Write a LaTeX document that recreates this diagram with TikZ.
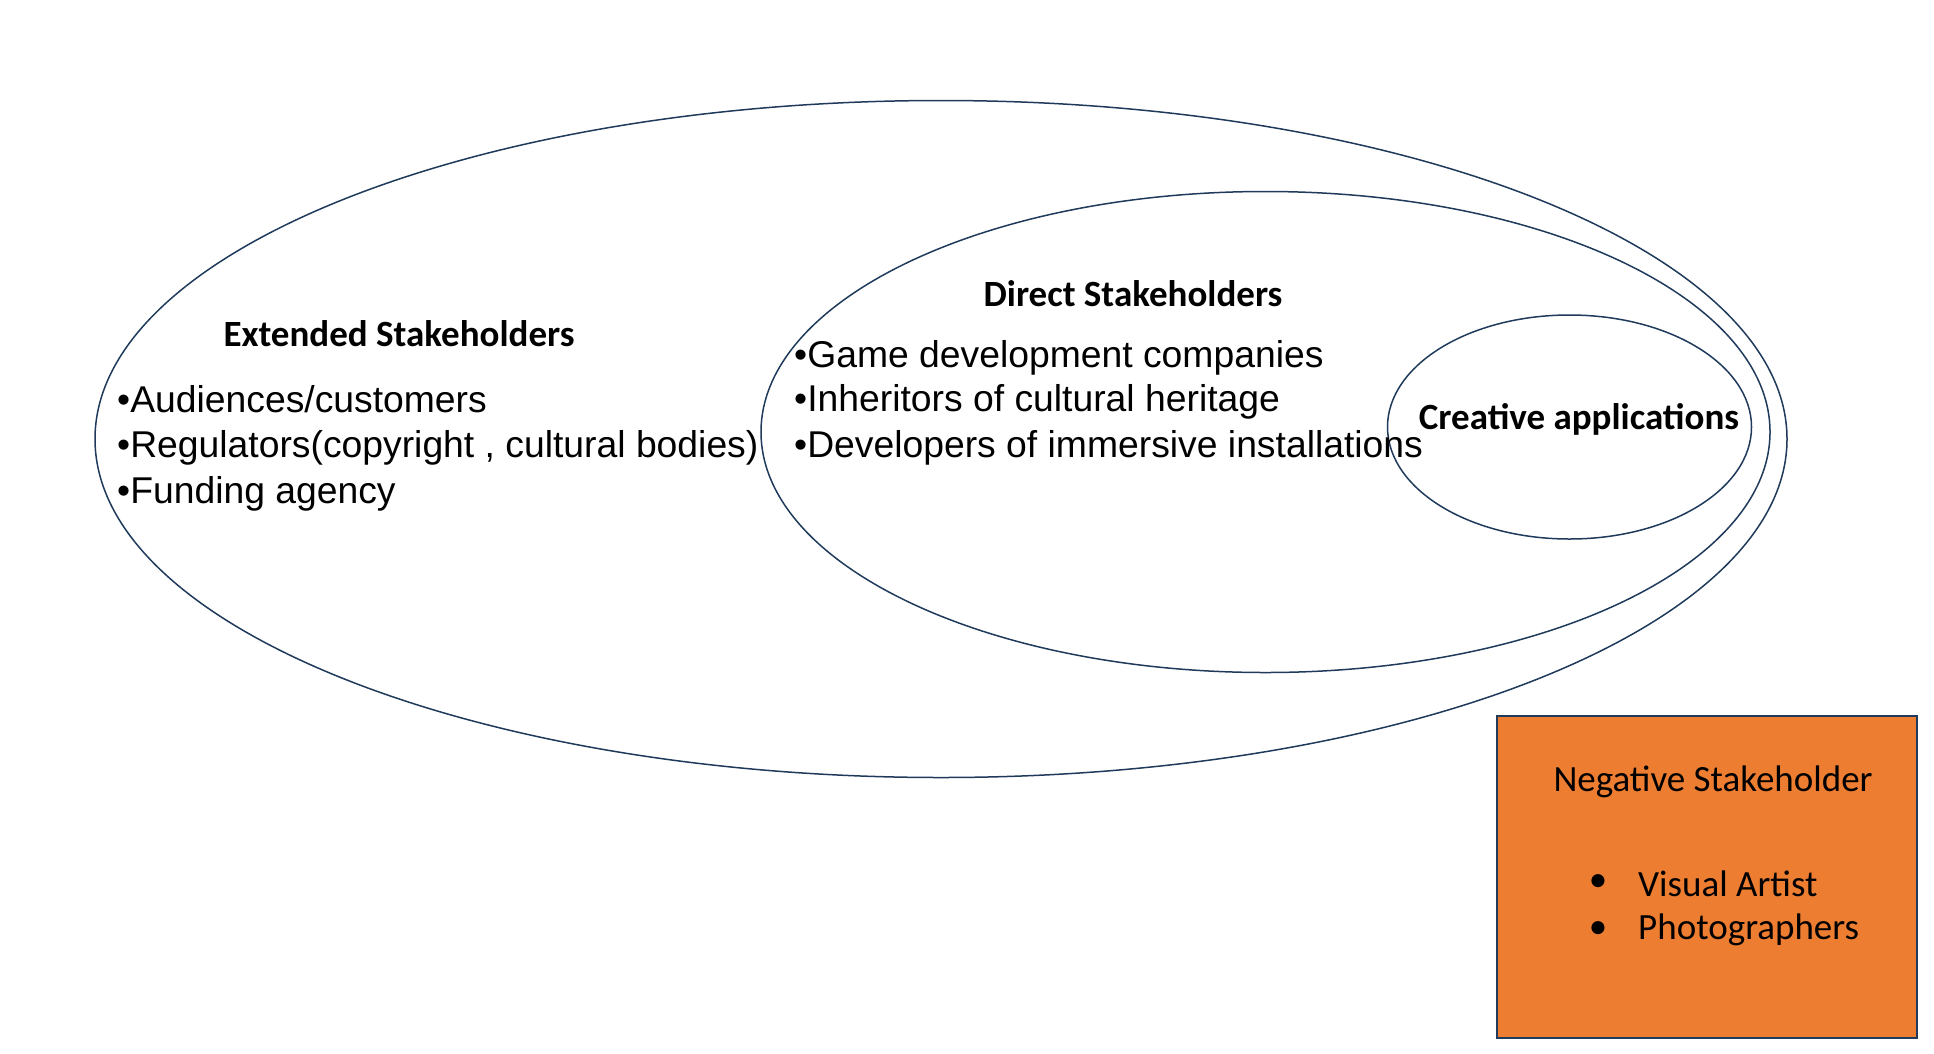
\documentclass[tikz,border=0pt]{standalone}
\usepackage{fontspec}
\setmainfont{Liberation Sans}
\newfontfamily\calibri{Carlito}
\usetikzlibrary{shapes.geometric}
\definecolor{navy}{HTML}{1F3A5A}
\definecolor{boxorange}{HTML}{ED7D31}
\begin{document}
\begin{tikzpicture}[x=1pt,y=-1pt,
  ell/.style={draw=navy,line width=1.5pt,ellipse,inner sep=0pt},
  head/.style={font=\calibri\bfseries\fontsize{37}{44}\selectfont,inner sep=0pt},
  item/.style={font=\fontsize{37.3}{45.6}\selectfont,inner sep=0pt,anchor=west,align=left},
  boxtxt/.style={font=\calibri\fontsize{37}{44}\selectfont,inner sep=0pt}]
\useasboundingbox (0,0) rectangle (1934,1053);
\node[ell,minimum width=1692pt,minimum height=677pt] (outer) at (941,439) {};
\node[ell,minimum width=1009pt,minimum height=481pt] (direct) at (1265.5,432) {};
\node[ell,minimum width=364pt,minimum height=224pt] (creative) at (1569.5,427) {};
\node[head] (exthead) at (399,333.5) {Extended Stakeholders};
\node[item] (ext1) at (117,399) {•Audiences/customers};
\node[item] (ext2) at (117,447.5) {•Regulators(copyright , cultural bodies)};
\node[item] (ext3) at (117,493.5) {•Funding agency};
\node[head] (dirhead) at (1133,293.5) {Direct Stakeholders};
\node[item] (dir1) at (794,357.5) {•Game development companies};
\node[item] (dir2) at (794,401.5) {•Inheritors of cultural heritage};
\node[item] (dir3) at (794,447.5) {•Developers of immersive installations};
\node[head] (crehead) at (1579,419.5) {Creative applications};
\node[draw=navy,line width=2pt,fill=boxorange,minimum width=420pt,minimum height=322pt,inner sep=0pt] (neg) at (1706.5,876.5) {};
\node[boxtxt] (neghead) at (1713,781.5) {Negative Stakeholder};
\node[boxtxt] (b1) at (1598,883.5) {•};
\node[boxtxt,anchor=west] (n1) at (1638,883.5) {Visual Artist};
\node[boxtxt] (b2) at (1598,930) {•};
\node[boxtxt,anchor=west] (n2) at (1638,930) {Photographers};
\end{tikzpicture}
\end{document}
